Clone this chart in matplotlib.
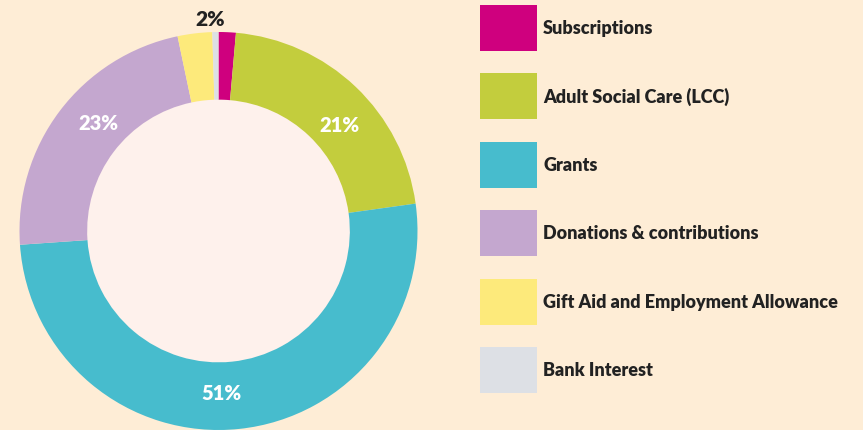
import numpy as np
import matplotlib
matplotlib.use("Agg")
import matplotlib.pyplot as plt
from matplotlib.patches import Circle

categorias = ["Subscriptions", "Adult Social Care (LCC)", "Grants",
              "Donations & contributions", "Gift Aid and Employment Allowance",
              "Bank Interest"]
valores = [1.4, 21.4, 51.1, 22.8, 2.8, 0.5]
rotulos = ["2%", "21%", "51%", "23%", "", ""]
cores = ["#CF007E", "#C3CD3D", "#47BCCD", "#C4A7CF", "#FDEA7B", "#DDE0E5"]

fundo = "#FEEDD6"
miolo = "#FEF1EC"

plt.rcParams["font.family"] = ["Lato", "DejaVu Sans"]

fig = plt.figure(figsize=(8.63, 4.31), dpi=100, facecolor=fundo)
ax = fig.add_axes([19.5 / 863, 0.0, 398 / 863, 398 / 431])
ax.set_facecolor(fundo)

fatias, _ = ax.pie(valores, colors=cores, startangle=90, counterclock=False,
                   radius=1.0, wedgeprops=dict(width=0.34, linewidth=0))
ax.add_patch(Circle((0, 0), 0.66, color=miolo, zorder=0))

for fatia, rotulo in zip(fatias, rotulos):
    if not rotulo:
        continue
    meio = np.deg2rad((fatia.theta1 + fatia.theta2) / 2)
    if fatia.theta2 - fatia.theta1 < 10:
        # fatia pequena: rotulo escuro por fora
        ax.text(-0.04, 1.07, rotulo, ha="center", va="center", fontsize=15,
                fontweight="heavy", color="#222222", clip_on=False)
    else:
        meio -= np.deg2rad(5)
        ax.text(0.81 * np.cos(meio), 0.81 * np.sin(meio), rotulo, ha="center",
                va="center", fontsize=14.5, fontweight="heavy", color="white")

ax.set_xlim(-1, 1)
ax.set_ylim(-1, 1)
ax.set_aspect("equal")
ax.axis("off")

tam = 13
fs = tam * 100 / 72
fig.legend(fatias, categorias, loc="upper left",
           bbox_to_anchor=(480 / 863, 1 - 6 / 431), frameon=False,
           borderpad=0, borderaxespad=0,
           handlelength=57 / fs, handleheight=46 / fs * 1.39,
           labelspacing=22.5 / fs, handletextpad=6 / fs,
           prop=dict(weight="heavy", size=tam))
for t in fig.legends[0].get_texts():
    t.set_color("#222222")

fig.savefig("out.png", dpi=100, facecolor=fundo)
